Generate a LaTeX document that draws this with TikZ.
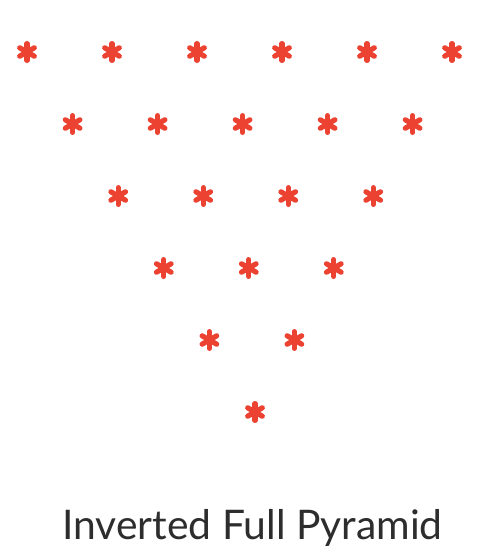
\documentclass[tikz,border=0pt]{standalone}
\usepackage{fontspec}
\setmainfont{Lato}
\definecolor{starred}{RGB}{236,66,50}
\definecolor{txt}{RGB}{45,45,45}
\tikzset{
  astx/.style={line width=5.2pt, line cap=round, starred},
  caption/.style={font=\fontsize{40.8}{43}\selectfont, text=txt, inner sep=0pt}
}
\usetikzlibrary{calc}
\newcommand{\aster}[3]{%
  \coordinate (#1) at (#2,#3);
  \foreach \ang in {30,90,150} {
    \draw[astx] ($(#1)+(\ang:8.4pt)$) -- ($(#1)+(\ang+180:8.4pt)$);
  }
}
\begin{document}
\begin{tikzpicture}[x=1pt,y=-1pt]
\useasboundingbox[fill=white] (0,0) rectangle (479,557);
\foreach \r in {0,...,5} {
  \pgfmathtruncatemacro{\n}{5-\r}
  \foreach \c in {0,...,\n} {
    \pgfmathsetmacro{\xx}{27+45.6*\r+85*\c}
    \pgfmathsetmacro{\yy}{52+72*\r}
    \aster{s\r\c}{\xx}{\yy}
  }
}
\node[caption, anchor=base] (title) at (252.5,539) {Inverted Full Pyramid};
\end{tikzpicture}
\end{document}
